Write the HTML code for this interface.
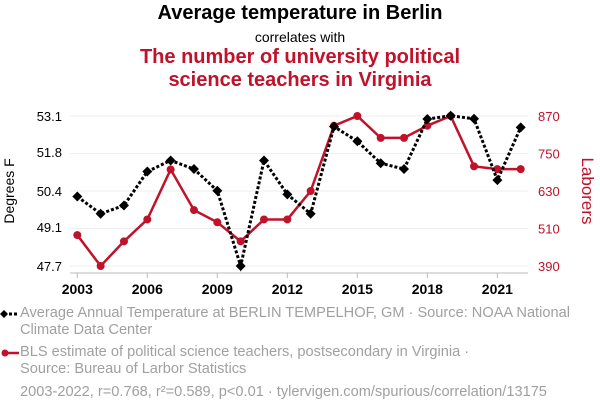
<!DOCTYPE html>
<html><head><meta charset="utf-8"><style>
body{margin:0;width:600px;height:414px;background:#fff;font-family:"Liberation Sans",sans-serif;overflow:hidden}
.t{position:absolute;left:0;width:600px;text-align:center}
.leg{position:absolute;left:20px;color:#a0a0a0;font-size:14.6px;line-height:17px;white-space:nowrap}
</style></head><body>
<div class="t" style="top:2px;font-size:20px;font-weight:bold;color:#000">Average temperature in Berlin</div>
<div class="t" style="top:29px;font-size:14px;color:#000">correlates with</div>
<div class="t" style="top:46px;font-size:20px;font-weight:bold;color:#c0122a;line-height:23px">The number of university political<br>science teachers in Virginia</div>
<svg id="c" width="600" height="414" style="position:absolute;left:0;top:0"></svg>
<div class="leg" style="top:305px">Average Annual Temperature at BERLIN TEMPELHOF, GM · Source: NOAA National<br>Climate Data Center</div>
<div class="leg" style="top:344px">BLS estimate of political science teachers, postsecondary in Virginia ·<br>Source: Bureau of Larbor Statistics</div>
<div class="leg" style="top:384px">2003-2022, r=0.768, r²=0.589, p&lt;0.01 · tylervigen.com/spurious/correlation/13175</div>
<script>
const years=[2003,2004,2005,2006,2007,2008,2009,2010,2011,2012,2013,2014,2015,2016,2017,2018,2019,2020,2021,2022];
const temps=[50.20,49.58,49.88,51.10,51.50,51.19,50.41,47.7,51.50,50.28,49.58,52.72,52.19,51.40,51.19,52.99,53.11,53.0,50.79,52.69];
const teachers=[489,390,469,539,699,569,530,469,539,539,630,839,870,800,800,839,870,709,700,700];
const leftTicks=[47.7,49.1,50.4,51.8,53.1];
const rightTicks=[390,510,630,750,870];
const xTicks=[2003,2006,2009,2012,2015,2018,2021];
const NS="http://www.w3.org/2000/svg";
const svg=document.getElementById('c');
const X0=77.3,X1=520.7,YT=116,YB=266;
const x=v=>X0+(v-2003)*(X1-X0)/19;
const yL=v=>YB-(v-47.7)*(YB-YT)/5.4;
const yR=v=>YB-(v-390)*(YB-YT)/480;
function el(t,a,txt){const e=document.createElementNS(NS,t);for(const k in a)e.setAttribute(k,a[k]);if(txt!=null)e.textContent=txt;svg.appendChild(e);return e;}
rightTicks.forEach((v,i)=>{
 const g=el('line',{x1:70,x2:528,y1:yR(v),y2:yR(v),stroke:'#eee','stroke-width':1});
 
 
});
leftTicks.forEach(v=>{
 const t=el('text',{x:62,y:yL(v)+5,'text-anchor':'end','font-size':13,fill:'#000'},v.toFixed(1));
 
 
});
rightTicks.forEach(v=>{
 const t=el('text',{x:538,y:yR(v)+5,'font-size':13,fill:'#c0122a'},v);
 
 
});
const ax=el('line',{x1:70,x2:528,y1:273,y2:273,stroke:'#bbb'});


xTicks.forEach(v=>{
 const tk=el('line',{x1:x(v),x2:x(v),y1:273,y2:278,stroke:'#bbb'});
 
 
 const t=el('text',{x:x(v),y:294,'text-anchor':'middle','font-size':14,'font-weight':'bold',fill:'#000'},v);
 
 
});
const yl=el('text',{x:0,y:0,transform:'translate(14,191) rotate(-90)','text-anchor':'middle','font-size':14,fill:'#000'},'Degrees F');


const yr=el('text',{x:0,y:0,transform:'translate(582,191) rotate(90)','text-anchor':'middle','font-size':17,fill:'#c0122a'},'Laborers');


const rl=el('polyline',{points:years.map((y,i)=>x(y)+','+yR(teachers[i])).join(' '),fill:'none',stroke:'#c0122a','stroke-width':2.5});


years.forEach((y,i)=>{
 const c=el('circle',{cx:x(y),cy:yR(teachers[i]),r:4,fill:'#c0122a'});
 
 
});
const bl=el('polyline',{points:years.map((y,i)=>x(y)+','+yL(temps[i])).join(' '),fill:'none',stroke:'#000','stroke-width':3,'stroke-dasharray':'3,2'});


years.forEach((y,i)=>{
 const cx=x(y),cy=yL(temps[i]);
 const d=el('polygon',{points:`${cx},${cy-5} ${cx+5},${cy} ${cx},${cy+5} ${cx-5},${cy}`,fill:'#000'});
 
 
});
const lm1=el('line',{x1:4,x2:19,y1:314,y2:314,stroke:'#000','stroke-width':3,'stroke-dasharray':'3,2'});


const lm1d=el('polygon',{points:'4,310 8,314 4,318 0,314',fill:'#000'});


const lm2=el('line',{x1:4,x2:19,y1:353,y2:353,stroke:'#c0122a','stroke-width':2.5});


const lm2c=el('circle',{cx:5,cy:353,r:3.5,fill:'#c0122a'});


</script>
</body></html>
